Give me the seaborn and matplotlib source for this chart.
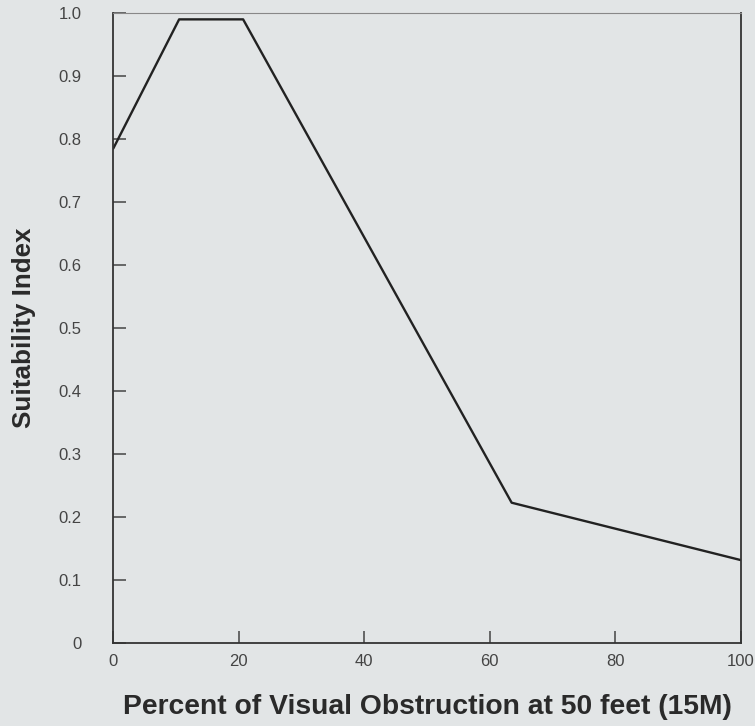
import pandas as pd
import numpy as np
import matplotlib
matplotlib.use("Agg")
import matplotlib.pyplot as plt
import seaborn as sns

# Curve vertices
obstruction = [0, 10.5, 20.7, 63.5, 100]
suitability = [0.785, 0.99, 0.99, 0.223, 0.132]

x_ticks = [0, 20, 40, 60, 80, 100]
y_ticks = [0, 0.1, 0.2, 0.3, 0.4, 0.5, 0.6, 0.7, 0.8, 0.9, 1.0]
y_tick_labels = ["0", "0.1", "0.2", "0.3", "0.4", "0.5", "0.6", "0.7", "0.8", "0.9", "1.0"]

df = pd.DataFrame({"x": obstruction, "y": suitability})

sns.set_style("white")
plt.rcParams["font.family"] = ["Liberation Sans", "DejaVu Sans"]

bg = "#e2e5e6"
fig = plt.figure(figsize=(7.55, 7.26), dpi=100, facecolor=bg)
ax = fig.add_axes([0.150, 0.114, 0.831, 0.868])
ax.set_facecolor(bg)

sns.lineplot(data=df, x="x", y="y", ax=ax, color="#222222", linewidth=1.7,
             sort=False)

ax.set_xlim(0, 100)
ax.set_ylim(0, 1.0)
ax.set_xticks(x_ticks)
ax.set_xticklabels([str(t) for t in x_ticks])
ax.set_yticks(y_ticks)
ax.set_yticklabels(y_tick_labels)

ax.tick_params(axis="both", direction="in", length=9, width=1.1,
               color="#444444", labelcolor="#444444", labelsize=12,
               left=True, bottom=True, right=False, top=False)
ax.tick_params(axis="y", pad=23)
ax.tick_params(axis="x", pad=8)

for side in ["left", "bottom", "right"]:
    ax.spines[side].set_color("#333333")
    ax.spines[side].set_linewidth(1.3)
    ax.spines[side].set_visible(True)
ax.spines["top"].set_visible(True)
ax.spines["top"].set_color("#888888")
ax.spines["top"].set_linewidth(0.8)

ax.set_xlabel("Percent of Visual Obstruction at 50 feet (15M)", fontsize=20.3,
              fontweight="semibold", color="#2a2a2a", labelpad=18)
ax.set_ylabel("Suitability Index", fontsize=18.7, fontweight="semibold",
              color="#2a2a2a", labelpad=16)

fig.savefig("out.png", dpi=100, facecolor=bg)
